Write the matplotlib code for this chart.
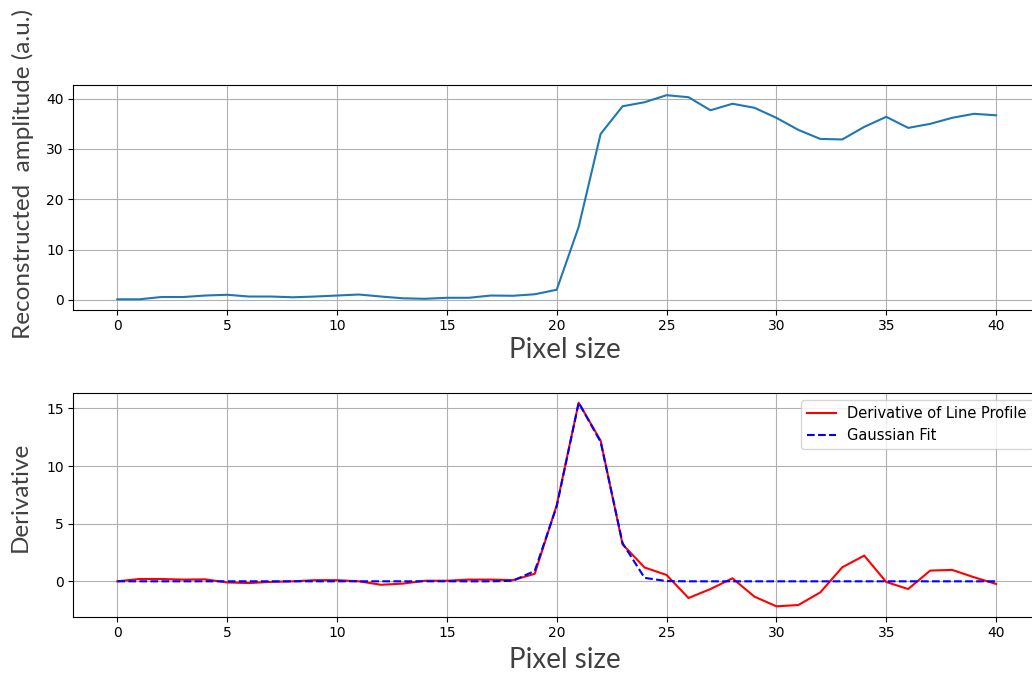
import matplotlib
matplotlib.use("Agg")
import matplotlib.pyplot as plt
from matplotlib.ticker import MultipleLocator

pixels = list(range(41))
profile = [0.1, 0.1, 0.55, 0.55, 0.85, 1.0, 0.65, 0.65, 0.5, 0.65,
           0.85, 1.05, 0.65, 0.3, 0.2, 0.4, 0.4, 0.85, 0.8, 1.1,
           2.0, 14.5, 33.0, 38.5, 39.3, 40.7, 40.3, 37.7, 39.0, 38.2,
           36.2, 33.8, 32.0, 31.9, 34.4, 36.4, 34.2, 35.0, 36.2, 37.0, 36.7]
derivative = [0.0, 0.2, 0.2, 0.15, 0.17, -0.1, -0.15, -0.05, 0.0, 0.1,
              0.1, 0.0, -0.3, -0.2, 0.05, 0.05, 0.15, 0.15, 0.1, 0.65,
              6.6, 15.5, 12.2, 3.2, 1.2, 0.55, -1.45, -0.67, 0.26, -1.33,
              -2.17, -2.06, -0.96, 1.22, 2.23, -0.06, -0.67, 0.93, 0.99, 0.35, -0.23]
gauss_fit = [0.0] * 18 + [0.04, 0.9, 6.5, 15.5, 12.1, 3.3, 0.3, 0.02] + [0.0] * 15

label_font = "Lato"

fig = plt.figure(figsize=(10.32, 6.78), dpi=100)
ax1 = fig.add_axes([73.4 / 1032, 1 - 309.5 / 678, (1040 - 73.4) / 1032, (309.5 - 85) / 678])
ax2 = fig.add_axes([73.4 / 1032, 1 - 616.5 / 678, (1040 - 73.4) / 1032, (616.5 - 392.5) / 678])

ax1.plot(pixels, profile, color="#1f77b4", lw=1.5)
ax1.grid(True)

ax2.plot(pixels, derivative, color="red", lw=1.5, label="Derivative of Line Profile")
ax2.plot(pixels, gauss_fit, "b--", lw=1.5, label="Gaussian Fit")
ax2.yaxis.set_major_locator(MultipleLocator(5))
ax2.grid(True)
ax2.legend(loc="upper right", fontsize=10.5)

fig.text(565 / 1032, 1 - 350 / 678, "Pixel size", ha="center", va="center",
         fontsize=20, family=label_font, color="#404040")
fig.text(565 / 1032, 1 - 660 / 678, "Pixel size", ha="center", va="center",
         fontsize=20, family=label_font, color="#404040")
fig.text(23 / 1032, 1 - 174 / 678, "Reconstructed  amplitude (a.u.)", ha="center", va="center",
         rotation=90, fontsize=17.5, family=label_font, color="#404040")
fig.text(20 / 1032, 1 - 497 / 678, "Derivative", ha="center", va="center",
         rotation=90, fontsize=17.5, family=label_font, color="#404040")

fig.savefig("out.png", dpi=100)
